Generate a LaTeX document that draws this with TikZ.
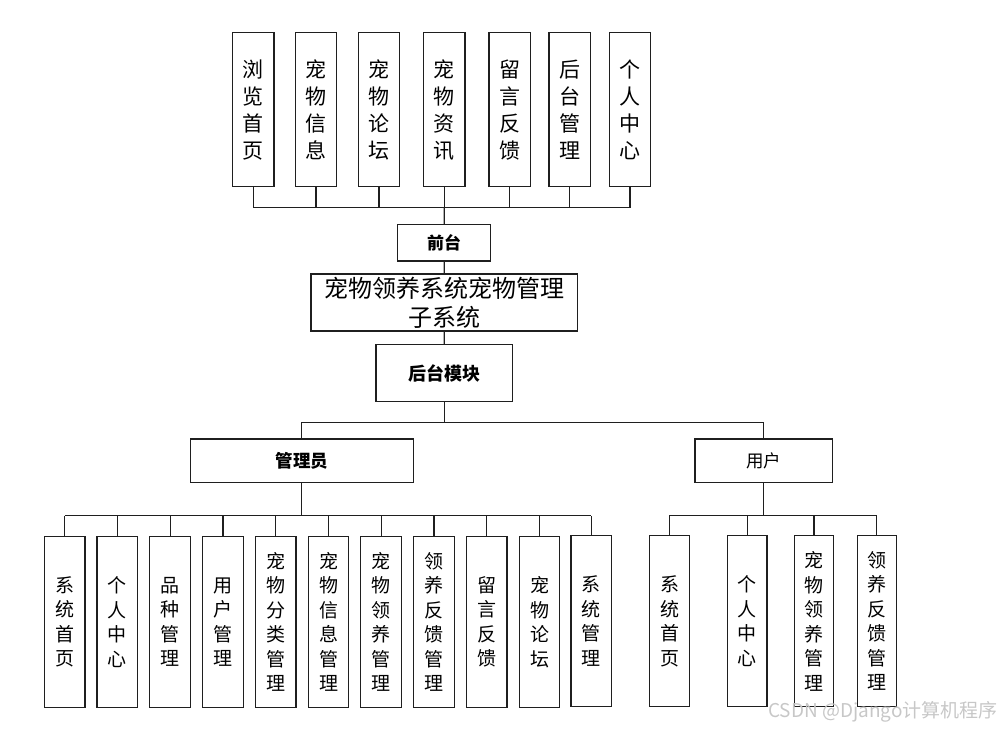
\documentclass[tikz,border=0pt]{standalone}
\usepackage{fontspec}
\setmainfont{Noto Sans CJK SC}
\begin{document}
\begin{tikzpicture}[x=1pt,y=-1pt,
  box/.style={draw=black!88, line width=1.2pt, fill=white, inner sep=0pt, align=center},
  vtop/.style={box, minimum width=41.5pt, minimum height=154pt, font=\fontsize{21}{27}\selectfont},
  vbot/.style={box, minimum width=40.7pt, minimum height=171pt, font=\fontsize{19}{24.5}\selectfont},
  vusr/.style={box, minimum width=39.3pt, minimum height=171pt, font=\fontsize{19}{24.5}\selectfont},
  hbold/.style={box, font=\fontsize{17.5}{20}\selectfont\bfseries},
  conn/.style={draw=black!88, line width=1.2pt}]
\useasboundingbox (0,0) rectangle (1001,730);
% top row
\node[vtop] (t1) at (253.2,109.7) {浏\\览\\首\\页};
\node[vtop] (t2) at (316,109.7) {宠\\物\\信\\息};
\node[vtop] (t3) at (379,109.7) {宠\\物\\论\\坛};
\node[vtop] (t4) at (444.3,109.7) {宠\\物\\资\\讯};
\node[vtop] (t5) at (509.7,109.7) {留\\言\\反\\馈};
\node[vtop] (t6) at (569.7,109.7) {后\\台\\管\\理};
\node[vtop] (t7) at (630,109.7) {个\\人\\中\\心};
\coordinate (topbus) at (444.3,207.7);
% center column
\node[hbold, minimum width=93pt, minimum height=36.3pt, font=\fontsize{17}{20}\selectfont\bfseries] (qt) at (444.2,242.8) {前台};
\node[box, minimum width=266.7pt, minimum height=57pt, font=\fontsize{24}{29}\selectfont] (main) at (444.3,302.5) {宠物领养系统宠物管理\\子系统};
\node[hbold, minimum width=136.6pt, minimum height=57pt, font=\fontsize{18}{20}\selectfont\bfseries] (ht) at (444.2,373.2) {后台模块};
\coordinate (split) at (444.2,422.7);
\node[hbold, minimum width=223pt, minimum height=43.3pt] (admin) at (301.8,460.7) {管理员};
\node[box, minimum width=137.3pt, minimum height=43.3pt, font=\fontsize{17.5}{20}\selectfont] (user) at (763.7,460.7) {用户};
\coordinate (abus) at (301.8,515.7);
\coordinate (ubus) at (763.7,515.2);
% admin row
\node[vbot] (a1) at (64.7,622) {系\\统\\首\\页};
\node[vbot] (a2) at (117.3,622) {个\\人\\中\\心};
\node[vbot] (a3) at (170.2,622) {品\\种\\管\\理};
\node[vbot] (a4) at (223,622) {用\\户\\管\\理};
\node[vbot] (a5) at (275.7,622) {宠\\物\\分\\类\\管\\理};
\node[vbot] (a6) at (328.5,622) {宠\\物\\信\\息\\管\\理};
\node[vbot] (a7) at (381.2,622) {宠\\物\\领\\养\\管\\理};
\node[vbot] (a8) at (434,622) {领\\养\\反\\馈\\管\\理};
\node[vbot] (a9) at (486.7,622) {留\\言\\反\\馈};
\node[vbot] (a10) at (539.5,622) {宠\\物\\论\\坛};
\node[vbot] (a11) at (591.4,621.2) {系\\统\\管\\理};
% user row
\node[vusr] (u1) at (669.5,621.2) {系\\统\\首\\页};
\node[vusr] (u2) at (747.3,621.2) {个\\人\\中\\心};
\node[vusr] (u3) at (814,621.2) {宠\\物\\领\\养\\管\\理};
\node[vusr] (u4) at (876.8,621.2) {领\\养\\反\\馈\\管\\理};
% connectors top
\foreach \n in {t1,t2,t3,t4,t5,t6,t7} \draw[conn] (\n.south) -- (\n.south |- topbus);
\draw[conn] (t1.south |- topbus) -- (t7.south |- topbus);
\draw[conn] (topbus) -- (qt.north);
\draw[conn] (qt.south) -- (main.north);
\draw[conn] (main.south) -- (ht.north);
\draw[conn] (ht.south) -- (split);
\draw[conn] (admin.north) |- (split) -| (user.north);
% admin connectors
\draw[conn] (admin.south) -- (abus);
\foreach \n in {a1,a2,a3,a4,a5,a6,a7,a8,a9,a10,a11} \draw[conn] (\n.north) -- (\n.north |- abus);
\draw[conn] (a1.north |- abus) -- (a11.north |- abus);
% user connectors
\draw[conn] (user.south) -- (ubus);
\foreach \n in {u1,u2,u3,u4} \draw[conn] (\n.north) -- (\n.north |- ubus);
\draw[conn] (u1.north |- ubus) -- (u4.north |- ubus);
% watermark
\node[anchor=east, inner sep=0pt, text=black!22, font=\fontsize{19}{19}\selectfont] (wm) at (998,712) {CSDN @Django计算机程序};
\end{tikzpicture}
\end{document}
